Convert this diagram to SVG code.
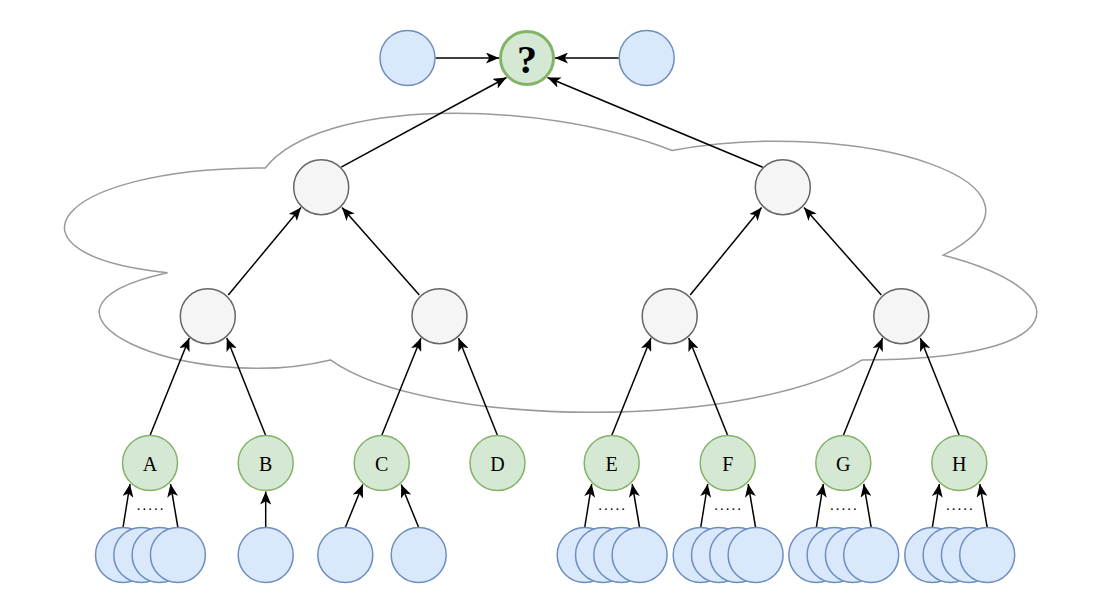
<svg xmlns="http://www.w3.org/2000/svg" width="1096" height="610" viewBox="0 0 1096 610">
<defs>
<marker id="arr" viewBox="0 0 13 11" refX="13" refY="5.5" markerWidth="13" markerHeight="11" orient="auto" markerUnits="userSpaceOnUse">
<path d="M0,0 L13,5.5 L0,11 L3.3,5.5 Z" fill="#000"/>
</marker>
</defs>
<style>
.blue{fill:#dae8fc;stroke:#6c8ebf;stroke-width:1.5}
.gray{fill:#f5f5f5;stroke:#666666;stroke-width:1.5}
.green{fill:#d5e8d4;stroke:#82b366;stroke-width:1.5}
.q{fill:#d5e8d4;stroke:#82b366;stroke-width:3}
.cloud{fill:#ffffff;stroke:#9a9a9a;stroke-width:1.5}
.edges line{stroke:#000;stroke-width:1.5;marker-end:url(#arr)}
.lbl{font-family:"Liberation Serif","Times New Roman",serif;font-size:20px;fill:#000;text-anchor:middle}
.qt{font-family:"Liberation Serif","Times New Roman",serif;font-size:40px;font-weight:bold;fill:#000;text-anchor:middle}
.dots{font-family:"Liberation Serif","Times New Roman",serif;font-size:15px;fill:#000;text-anchor:middle;letter-spacing:2px}
</style>
<rect width="1096" height="610" fill="#ffffff"/>
<g id="cloud">
<path class="cloud" d="M265.25,167.95 C48.25,167.95 -6,255.2 167.6,272.65 C-6,311.04 189.3,394.8 330.35,359.9 C428,429.7 753.5,429.7 862,359.9 C1079,359.9 1079,290.1 943.4,255.2 C1079,185.4 862,115.6 672.1,150.5 C536.5,98.15 319.5,98.15 265.25,167.95 Z"/>
</g>
<g id="connectors" class="edges">
<line x1="435.5" y1="58" x2="499" y2="58"/>
<line x1="618.8" y1="58" x2="555" y2="58"/>
<line x1="341.2" y1="167.2" x2="506.5" y2="77.5"/>
<line x1="762.8" y1="167.2" x2="547.5" y2="77.5"/>
<line x1="228.3" y1="295" x2="301" y2="207.5"/>
<line x1="419.3" y1="295" x2="342" y2="207.5"/>
<line x1="690.2" y1="295" x2="761.6" y2="207.5"/>
<line x1="881.3" y1="295" x2="804" y2="207.5"/>
<line x1="150" y1="435.5" x2="189.3" y2="338"/>
<line x1="265.7" y1="435.5" x2="226.8" y2="338"/>
<line x1="381.7" y1="435.5" x2="421" y2="338"/>
<line x1="497.5" y1="435.5" x2="458.5" y2="338"/>
<line x1="611.7" y1="435.5" x2="651" y2="338"/>
<line x1="727.7" y1="435.5" x2="688.7" y2="338"/>
<line x1="843.3" y1="435.5" x2="882.6" y2="338"/>
<line x1="959.3" y1="435.5" x2="920.3" y2="338"/>
<line x1="123" y1="527.5" x2="130" y2="484"/>
<line x1="177.9" y1="527.5" x2="170.5" y2="484"/>
<line x1="265.7" y1="527.5" x2="265.7" y2="491.5"/>
<line x1="345.3" y1="527.5" x2="362.8" y2="484.5"/>
<line x1="418.7" y1="527.5" x2="401.2" y2="484.5"/>
<line x1="584.7" y1="527.5" x2="591.7" y2="484"/>
<line x1="639.6" y1="527.5" x2="632.2" y2="484"/>
<line x1="700.7" y1="527.5" x2="707.7" y2="484"/>
<line x1="755.6" y1="527.5" x2="748.2" y2="484"/>
<line x1="816.3" y1="527.5" x2="823.3" y2="484"/>
<line x1="871.2" y1="527.5" x2="863.8" y2="484"/>
<line x1="932.3" y1="527.5" x2="939.3" y2="484"/>
<line x1="987.2" y1="527.5" x2="979.8" y2="484"/>
</g>
<g id="top-left"><circle class="blue" cx="407.5" cy="58" r="27.5"/></g>
<g id="question"><circle class="q" cx="527" cy="58" r="26.5"/><text class="qt" x="527" y="72.5">?</text></g>
<g id="top-right"><circle class="blue" cx="646.7" cy="58" r="27.5"/></g>
<g id="l2-left"><circle class="gray" cx="321.2" cy="187.2" r="27.5"/></g>
<g id="l2-right"><circle class="gray" cx="782.8" cy="187.2" r="27.5"/></g>
<g id="l3-1"><circle class="gray" cx="207.8" cy="316.2" r="27.5"/></g>
<g id="l3-2"><circle class="gray" cx="439.5" cy="316.2" r="27.5"/></g>
<g id="l3-3"><circle class="gray" cx="669.7" cy="316.2" r="27.5"/></g>
<g id="l3-4"><circle class="gray" cx="901.3" cy="316.2" r="27.5"/></g>
<g id="node-A"><circle class="green" cx="150" cy="463" r="27.5"/><text class="lbl" x="150" y="470.5">A</text></g>
<g id="node-B"><circle class="green" cx="265.7" cy="463" r="27.5"/><text class="lbl" x="265.7" y="470.5">B</text></g>
<g id="node-C"><circle class="green" cx="381.7" cy="463" r="27.5"/><text class="lbl" x="381.7" y="470.5">C</text></g>
<g id="node-D"><circle class="green" cx="497.5" cy="463" r="27.5"/><text class="lbl" x="497.5" y="470.5">D</text></g>
<g id="node-E"><circle class="green" cx="611.7" cy="463" r="27.5"/><text class="lbl" x="611.7" y="470.5">E</text></g>
<g id="node-F"><circle class="green" cx="727.7" cy="463" r="27.5"/><text class="lbl" x="727.7" y="470.5">F</text></g>
<g id="node-G"><circle class="green" cx="843.3" cy="463" r="27.5"/><text class="lbl" x="843.3" y="470.5">G</text></g>
<g id="node-H"><circle class="green" cx="959.3" cy="463" r="27.5"/><text class="lbl" x="959.3" y="470.5">H</text></g>
<g id="leaves-A">
<circle class="blue" cx="123" cy="555" r="27.5"/><circle class="blue" cx="141.3" cy="555" r="27.5"/><circle class="blue" cx="159.6" cy="555" r="27.5"/><circle class="blue" cx="177.9" cy="555" r="27.5"/>
<text class="dots" x="151" y="509.5">.....</text>
</g>
<g id="leaf-B"><circle class="blue" cx="265.7" cy="555" r="27.5"/></g>
<g id="leaf-C1"><circle class="blue" cx="345.3" cy="555" r="27.5"/></g>
<g id="leaf-C2"><circle class="blue" cx="418.7" cy="555" r="27.5"/></g>
<g id="leaves-E">
<circle class="blue" cx="584.7" cy="555" r="27.5"/><circle class="blue" cx="603" cy="555" r="27.5"/><circle class="blue" cx="621.3" cy="555" r="27.5"/><circle class="blue" cx="639.6" cy="555" r="27.5"/>
<text class="dots" x="612.7" y="509.5">.....</text>
</g>
<g id="leaves-F">
<circle class="blue" cx="700.7" cy="555" r="27.5"/><circle class="blue" cx="719" cy="555" r="27.5"/><circle class="blue" cx="737.3" cy="555" r="27.5"/><circle class="blue" cx="755.6" cy="555" r="27.5"/>
<text class="dots" x="728.7" y="509.5">.....</text>
</g>
<g id="leaves-G">
<circle class="blue" cx="816.3" cy="555" r="27.5"/><circle class="blue" cx="834.6" cy="555" r="27.5"/><circle class="blue" cx="852.9" cy="555" r="27.5"/><circle class="blue" cx="871.2" cy="555" r="27.5"/>
<text class="dots" x="844.3" y="509.5">.....</text>
</g>
<g id="leaves-H">
<circle class="blue" cx="932.3" cy="555" r="27.5"/><circle class="blue" cx="950.6" cy="555" r="27.5"/><circle class="blue" cx="968.9" cy="555" r="27.5"/><circle class="blue" cx="987.2" cy="555" r="27.5"/>
<text class="dots" x="960.3" y="509.5">.....</text>
</g>
</svg>
